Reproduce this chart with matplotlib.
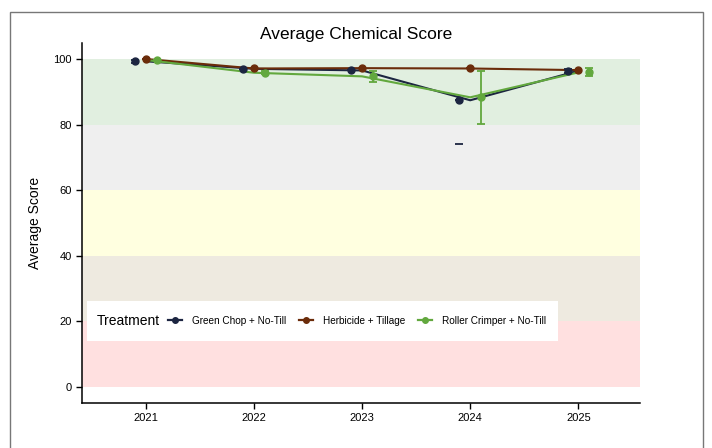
"""Average chemical score by year and treatment, with quality bands."""

import matplotlib
matplotlib.use("Agg")
import matplotlib.pyplot as plt
from matplotlib.patches import Rectangle
from matplotlib.lines import Line2D

plt.rcParams["font.family"] = ["Liberation Sans", "DejaVu Sans"]

years = [2021, 2022, 2023, 2024, 2025]
treatments = ["Green Chop + No-Till", "Herbicide + Tillage", "Roller Crimper + No-Till"]
colors = ["#1c2541", "#6b2c0a", "#62a83e"]

gc_mean = [99.3, 97.0, 96.5, 87.4, 96.4]
hb_mean = [100.0, 97.1, 97.2, 97.1, 96.6]
rc_mean = [99.7, 95.8, 94.7, 88.3, 95.9]
gc_err = [0.5, 0.0, 0.0, 0.0, 0.6]
hb_err = [0.0, 0.0, 0.0, 0.0, 0.0]
rc_err = [0.0, 0.4, 1.7, 8.1, 1.2]
gc_stray_year, gc_stray_val = 2024, 74.1  # lone lower cap under GC 2024

band_edges = [0, 20, 40, 60, 80, 100]
band_colors = ["#ffe0e0", "#eeeae0", "#ffffe0", "#efefef", "#e1efe0"]

fig = plt.figure(figsize=(7.12, 4.48), dpi=100)
ax = fig.add_axes([82 / 712, 45 / 448, 558 / 712, 360.4 / 448])

# outer frame
fig.patches.append(Rectangle((10 / 712, -0.02), 693 / 712, 1.0 - 12 / 448 + 0.02,
                             transform=fig.transFigure, fill=False,
                             edgecolor="#777777", linewidth=1.0))

for lo, hi, c in zip(band_edges[:-1], band_edges[1:], band_colors):
    ax.axhspan(lo, hi, color=c, lw=0, zorder=0)

dodge = [-0.1, 0.0, 0.1]
means = [gc_mean, hb_mean, rc_mean]
errs = [gc_err, hb_err, rc_err]
for m, e, c, d in zip(means, errs, colors, dodge):
    ax.plot(years, m, color=c, lw=1.5, zorder=3)
    xs = [y + d for y in years]
    ax.errorbar(xs, m, yerr=e, fmt="o", color=c, ms=5, capsize=3,
                elinewidth=1.3, capthick=1.3, zorder=4)
ax.plot([gc_stray_year - 0.1], [gc_stray_val], marker="_", ms=6, mew=1.3,
        color=colors[0], zorder=4)

ax.set_xlim(2020.41, 2025.57)
ax.set_ylim(-5, 105)
ax.set_xticks(years)
ax.set_yticks([0, 20, 40, 60, 80, 100])
ax.tick_params(labelsize=8, length=4, width=1, colors="black")
for s in ["top", "right"]:
    ax.spines[s].set_visible(False)
for s in ["left", "bottom"]:
    ax.spines[s].set_linewidth(1.1)
ax.set_ylabel("Average Score", fontsize=10, labelpad=8)
fig.text(0.5, 1 - 35 / 448, "Average Chemical Score", ha="center", va="center",
         fontsize=12.5)

# legend box inside the plot, title to the left
ax.add_patch(Rectangle((0.009, 0.172), 0.844, 0.111, transform=ax.transAxes,
                       facecolor="white", edgecolor="none", zorder=5))
ax.text(0.027, 0.228, "Treatment", transform=ax.transAxes, va="center",
        fontsize=10, zorder=6)
handles = [Line2D([], [], color=c, marker="o", ms=4, lw=1.6) for c in colors]
leg = ax.legend(handles, treatments, ncol=3, frameon=False, fontsize=7.2,
                loc="center left", bbox_to_anchor=(0.154, 0.228),
                borderpad=0, borderaxespad=0, handlelength=1.4,
                handletextpad=1.0, columnspacing=1.3)
leg.set_zorder(6)

fig.savefig("out.png", dpi=100)
